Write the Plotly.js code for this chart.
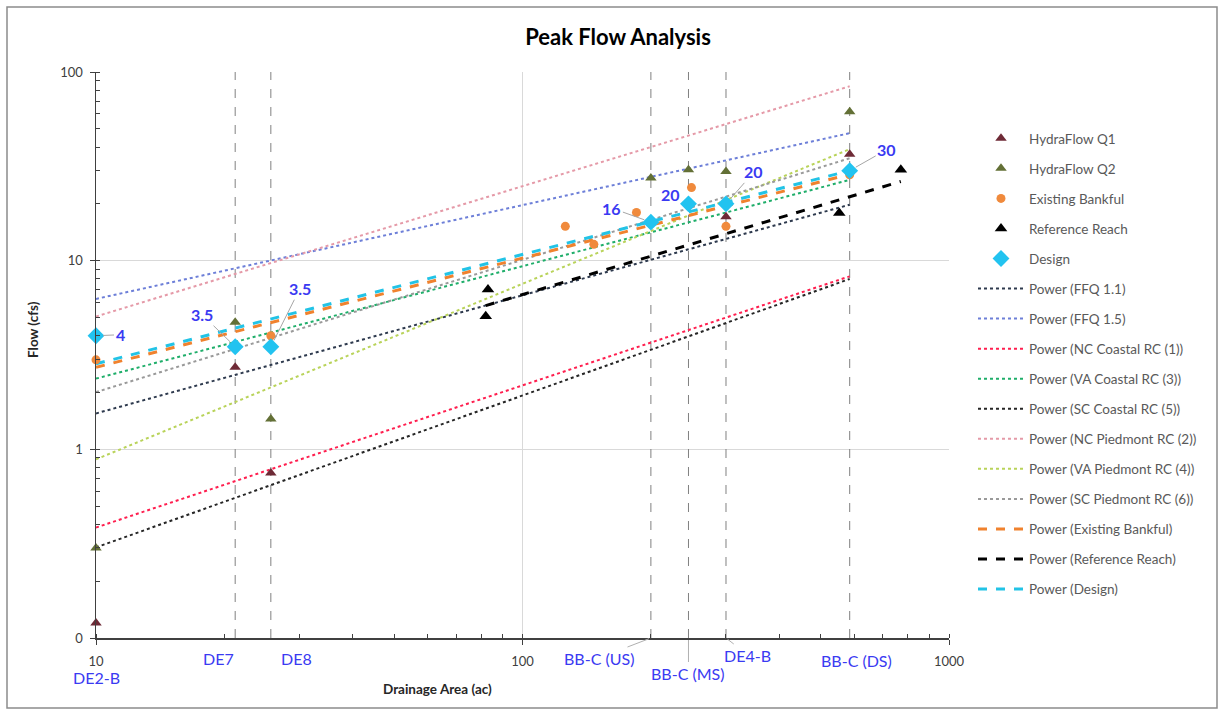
<!DOCTYPE html>
<html>
<head>
<meta charset="utf-8">
<script src="https://cdn.plot.ly/plotly-3.0.1.min.js"></script>
<style>html,body{margin:0;padding:0;background:#fff;}#chart{width:1222px;height:715px;}</style>
</head>
<body>
<div id="chart"></div>
<script>
// ---- Data ----
const siteNames = ["DE2-B", "DE7", "DE8", "BB-C (US)", "BB-C (MS)", "DE4-B", "BB-C (DS)"];
const siteAreas = [10, 21.2, 25.7, 200, 245, 300, 585];

const q1Area = [10, 21.2, 25.7, 300, 585];
const q1Flow = [0.12, 2.72, 0.75, 17.1, 36.7];

const q2Area = [10, 21.2, 25.7, 200, 245, 300, 585];
const q2Flow = [0.30, 4.72, 1.45, 27.4, 30.3, 29.7, 61.6];

const bankArea = [10, 25.7, 126, 147, 185, 249, 300, 585];
const bankFlow = [2.98, 4.0, 15.2, 12.2, 18.0, 24.4, 15.2, 28.5];

const refArea = [82, 83, 553, 771];
const refFlow = [5.07, 7.03, 17.9, 30.3];

const designArea = [10, 21.2, 25.7, 200, 245, 300, 585];
const designFlow = [4, 3.5, 3.5, 16, 20, 20, 30];
const designLabels = ["4", "3.5", "3.5", "16", "20", "20", "30"];

// trendline end points
const trendArea = [10, 585];
const ffq11 = [1.55, 19.8];
const ffq15 = [6.27, 47.4];
const ncCoastal = [0.385, 8.26];
const vaCoastal = [2.37, 26.8];
const scCoastal = [0.302, 8.0];
const ncPiedmont = [5.06, 84];
const vaPiedmont = [0.885, 39];
const scPiedmont = [2.01, 34.9];
const bankTrend = [2.72, 28.7];
const refTrendArea = [82, 771];
const refTrend = [5.78, 26.3];
const designTrend = [2.84, 30];

const xTickVals = [10, 100, 1000];
const xTickText = ["10", "100", "1000"];
const yTickVals = [0.1, 1, 10, 100];
const yTickText = ["0", "1", "10", "100"];

// ---- Traces ----
const FONT = "Lato, 'Liberation Sans', sans-serif";
let g = 0;
function grp(){ g += 1; return "g" + g; }

function markerTrace(name, x, y, symbol, color, size){
  return {type:"scatter", mode:"markers", name:name, x:x, y:y, cliponaxis:false,
    legendgroup:grp(), marker:{symbol:symbol, color:color, size:size, line:{width:0}}};
}
function lineTrace(name, x, y, color, dash, width){
  return {type:"scatter", mode:"lines", name:name, x:x, y:y, legendgroup:grp(),
    line:{color:color, dash:dash, width:width}};
}

const traces = [];
// vertical site lines (no legend)
siteAreas.forEach(function(a){
  if (a > 10) traces.push({type:"scatter", mode:"lines", x:[a, a], y:[0.1, 100], showlegend:false,
    hoverinfo:"skip", line:{color:"#808080", dash:"dash", width:1}});
});

traces.push(lineTrace("Power (FFQ 1.1)", trendArea, ffq11, "#2e3a4e", "dot", 2));
traces.push(lineTrace("Power (FFQ 1.5)", trendArea, ffq15, "#6d7fd8", "dot", 2));
traces.push(lineTrace("Power (NC Coastal RC (1))", trendArea, ncCoastal, "#ff1f4f", "dot", 2));
traces.push(lineTrace("Power (VA Coastal RC (3))", trendArea, vaCoastal, "#1fae6a", "dot", 2));
traces.push(lineTrace("Power (SC Coastal RC (5))", trendArea, scCoastal, "#262626", "dot", 2));
traces.push(lineTrace("Power (NC Piedmont RC (2))", trendArea, ncPiedmont, "#e59aa8", "dot", 2));
traces.push(lineTrace("Power (VA Piedmont RC (4))", trendArea, vaPiedmont, "#b9d35a", "dot", 2));
traces.push(lineTrace("Power (SC Piedmont RC (6))", trendArea, scPiedmont, "#9a9a9a", "dot", 2));
traces.push(lineTrace("Power (Existing Bankful)", trendArea, bankTrend, "#f0822e", "dash", 3));
traces.push(lineTrace("Power (Reference Reach)", refTrendArea, refTrend, "#000000", "dash", 3));
traces.push(lineTrace("Power (Design)", trendArea, designTrend, "#22c3e6", "dash", 3));

traces.push(markerTrace("HydraFlow Q1", q1Area, q1Flow, "triangle-up", "#6e2a36", 10));
traces.push(markerTrace("HydraFlow Q2", q2Area, q2Flow, "triangle-up", "#637036", 10));
traces.push(markerTrace("Existing Bankful", bankArea, bankFlow, "circle", "#f08a3c", 9));
traces.push(markerTrace("Reference Reach", refArea, refFlow, "triangle-up", "#000000", 11));
traces.push(markerTrace("Design", designArea, designFlow, "diamond", "#22c3f0", 13));

// legend order: markers first
const legendOrder = ["HydraFlow Q1","HydraFlow Q2","Existing Bankful","Reference Reach","Design",
  "Power (FFQ 1.1)","Power (FFQ 1.5)","Power (NC Coastal RC (1))","Power (VA Coastal RC (3))",
  "Power (SC Coastal RC (5))","Power (NC Piedmont RC (2))","Power (VA Piedmont RC (4))",
  "Power (SC Piedmont RC (6))","Power (Existing Bankful)","Power (Reference Reach)","Power (Design)"];
traces.forEach(function(t){
  if (t.name){ t.legendrank = legendOrder.indexOf(t.name) + 1; }
});

// ---- Annotations ----
const annotations = [];
const BLUE = "#3a3af2";
// data labels on design points: [ax, ay, showarrow]
const labelOffsets = [[24,-1,true],[-33,-32,true],[29,-58,true],[-39,-14,true],[-18,-9,false],[28,-32,true],[37,-21,true]];
designArea.forEach(function(a, i){
  const o = labelOffsets[i];
  if (o[2]){
    annotations.push({x:Math.log10(a), y:Math.log10(designFlow[i]), xref:"x", yref:"y",
      text:"<b>"+designLabels[i]+"</b>", showarrow:true, ax:o[0], ay:o[1], arrowhead:0,
      arrowwidth:1, arrowcolor:"#a6a6a6", standoff:7, font:{family:FONT, size:16, color:BLUE}});
  } else {
    annotations.push({x:Math.log10(a), y:Math.log10(designFlow[i]), xref:"x", yref:"y",
      text:"<b>"+designLabels[i]+"</b>", showarrow:false, xshift:o[0], yshift:-o[1],
      xanchor:"center", yanchor:"middle", font:{family:FONT, size:16, color:BLUE}});
  }
});
// site labels under axis: [dx, dy, arrow]
const siteOffsets = [[0,39,false],[-17,20,false],[26,20,false],[-52,20,true],[0,35,true],[22,17,true],[7,22,false]];
siteAreas.forEach(function(a, i){
  const o = siteOffsets[i];
  if (o[2]){
    annotations.push({x:Math.log10(a), y:0, xref:"x", yref:"paper", text:siteNames[i],
      showarrow:true, ax:o[0], ay:o[1], arrowhead:0, arrowwidth:1, arrowcolor:"#b0b0b0",
      standoff:2, font:{family:FONT, size:16, color:BLUE}});
  } else {
    annotations.push({x:Math.log10(a), y:0, xref:"x", yref:"paper", text:siteNames[i],
      showarrow:false, xshift:o[0], yshift:-o[1], xanchor:"center", yanchor:"middle",
      font:{family:FONT, size:16, color:BLUE}});
  }
});
// axis titles
annotations.push({xref:"paper", yref:"paper", x:(437-96)/853, y:(638-689)/566, text:"<b>Drainage Area (ac)</b>",
  showarrow:false, xanchor:"center", yanchor:"middle", font:{family:FONT, size:13.5, color:"#262626"}});
annotations.push({xref:"paper", yref:"paper", x:(33-96)/853, y:(638-330)/566, text:"<b>Flow (cfs)</b>",
  textangle:-90, showarrow:false, xanchor:"center", yanchor:"middle", font:{family:FONT, size:13.5, color:"#262626"}});

const layout = {
  width:1222, height:715,
  margin:{l:96, r:273, t:72, b:77},
  paper_bgcolor:"#ffffff", plot_bgcolor:"#ffffff",
  title:{text:"<b>Peak Flow Analysis</b>", x:618/1222, xref:"container", y:1-37/715, yref:"container",
    xanchor:"center", yanchor:"middle", font:{family:FONT, size:22, color:"#000"}},
  font:{family:FONT, size:12, color:"#595959"},
  showlegend:true,
  legend:{x:(973-96)/853, xanchor:"left", y:(638-123)/566, yanchor:"top", traceorder:"grouped",
    tracegroupgap:9.5, itemwidth:46, font:{family:FONT, size:13.5, color:"#595959"},
    bgcolor:"rgba(0,0,0,0)"},
  xaxis:{type:"log", range:[1,3], tickvals:xTickVals, ticktext:xTickText,
    showgrid:true, gridcolor:"#d9d9d9", gridwidth:1, zeroline:false,
    showline:true, linecolor:"#404040", linewidth:1.5, ticks:"outside", ticklen:5, tickcolor:"#404040",
    ticklabelstandoff:6, tickfont:{family:FONT, size:13, color:"#404040"},
    minor:{ticks:"inside", ticklen:4, tickcolor:"#404040", dtick:"D1", showgrid:false}},
  yaxis:{type:"log", range:[-1,2], tickvals:yTickVals, ticktext:yTickText,
    showgrid:true, gridcolor:"#d9d9d9", gridwidth:1, zeroline:false,
    showline:true, linecolor:"#404040", linewidth:1.5, ticks:"outside", ticklen:5, tickcolor:"#404040",
    ticklabelstandoff:4, tickfont:{family:FONT, size:13, color:"#404040"},
    minor:{ticks:"inside", ticklen:4, tickcolor:"#404040", dtick:"D1", showgrid:false}},
  annotations:annotations,
  shapes:[{type:"rect", xref:"paper", yref:"paper", x0:(7-96)/853, x1:(1217-96)/853,
    y0:(638-708)/566, y1:(638-7)/566, line:{color:"#8c8c8c", width:1.5}, layer:"above"}]
};

Plotly.newPlot("chart", traces, layout, {displayModeBar:false, staticPlot:true});
</script>
</body>
</html>
